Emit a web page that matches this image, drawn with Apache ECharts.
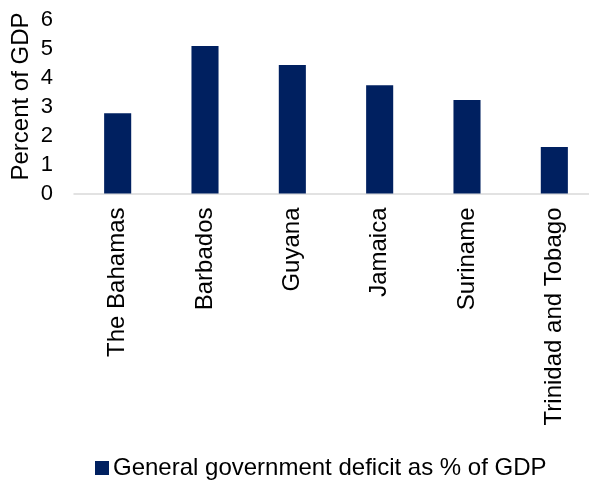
<!DOCTYPE html>
<html>
<head>
<meta charset="utf-8">
<script src="https://cdn.jsdelivr.net/npm/echarts@6/dist/echarts.min.js"></script>
<style>
  html, body { margin: 0; padding: 0; background: #ffffff; }
  #chart { width: 589px; height: 480px; }
</style>
</head>
<body>
<div id="chart"></div>
<script>
// Caribbean economies: general government deficit, percent of GDP
const countries = ['The Bahamas', 'Barbados', 'Guyana', 'Jamaica', 'Suriname', 'Trinidad and Tobago'];
const deficit = [2.77, 5.09, 4.43, 3.73, 3.22, 1.60];
const seriesName = 'General government deficit as % of GDP';
const yAxisTitle = 'Percent of GDP';

const FONT = '"Liberation Sans", Arial, sans-serif';
const BAR_COLOR = '#002060';

const chart = echarts.init(document.getElementById('chart'), null, { renderer: 'canvas' });

chart.setOption({
  animation: false,
  backgroundColor: '#ffffff',
  textStyle: { fontFamily: FONT, color: '#000000' },
  grid: {
    left: 74, right: -9, top: 19.5, bottom: 286.5,
    containLabel: false,
    outerBoundsMode: 'none'
  },
  legend: {
    data: [seriesName],
    left: 90,
    top: 451,
    itemWidth: 14,
    itemHeight: 14,
    itemGap: 10,
    icon: 'rect',
    textStyle: { fontFamily: FONT, fontSize: 24, color: '#000000', padding: [0, 0, 0, -1] }
  },
  xAxis: {
    type: 'category',
    data: countries,
    axisLine: { show: true, lineStyle: { color: '#d9d9d9', width: 1.5 } },
    axisTick: { show: false },
    axisLabel: {
      rotate: 90,
      margin: 14,
      interval: 0,
      fontFamily: FONT,
      fontSize: 24,
      color: '#000000'
    }
  },
  yAxis: {
    type: 'value',
    min: 0,
    max: 6,
    interval: 1,
    name: yAxisTitle,
    nameLocation: 'middle',
    nameRotate: 90,
    nameGap: 41,
    nameMoveOverlap: false,
    nameTextStyle: { fontFamily: FONT, fontSize: 24, color: '#000000', padding: [0, 0, 0, 20] },
    axisLine: { show: false },
    axisTick: { show: false },
    splitLine: { show: false },
    axisLabel: { margin: 21, fontFamily: FONT, fontSize: 22, color: '#000000' }
  },
  series: [{
    name: seriesName,
    type: 'bar',
    data: deficit,
    barWidth: '31%',
    itemStyle: { color: BAR_COLOR }
  }]
});
</script>
</body>
</html>
